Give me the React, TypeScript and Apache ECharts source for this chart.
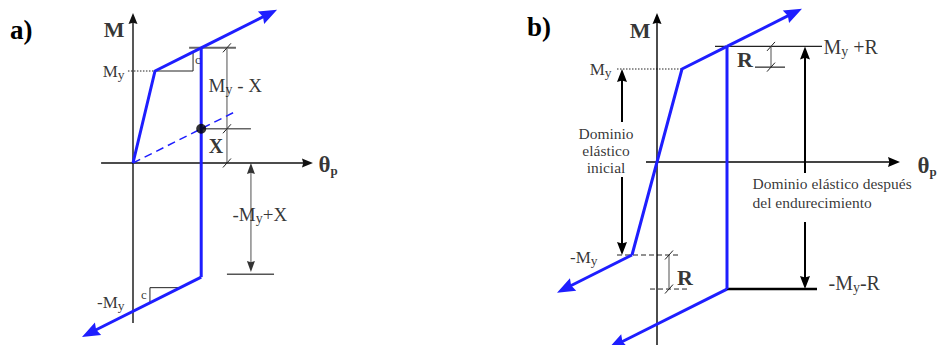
import React, { useEffect, useRef } from "react";
import * as echarts from "echarts";

// Units: rotation in multiples of the yield rotation, moment in multiples of My.

// ---- Panel a) : hardening branch and shifted elastic origin (X) ----
const loadPathA = [[0, 0], [1, 1], [3.1, 1.252]];
const loadArrowA = [[3.1, 1.252], [6.55, 1.666]];
const unloadPathA = [[3.1, 1.252], [3.1, -1.24]];
const reloadArrowA = [[3.1, -1.24], [-2.32, -1.89]];
const shiftLineA = [[0, 0], [4.68, 0.562]];
const shiftPointA = [[3.1, 0.372]];
const yieldGuideA = [[-0.23, 1], [1, 1]];
const slopeTopA = [[1, 1], [2.73, 1], [2.73, 1.208]];
const slopeBotA = [[2.14, -1.355], [0.77, -1.355], [0.77, -1.52]];
const dimTopA = [[2.55, 1.252], [4.68, 1.252]];
const dimVertA = [[4.27, 1.252], [4.27, 0]];
const dimXA = [[3.1, 0.372], [5.36, 0.372]];
const dimBaseA = [[4.27, -1.21], [6.41, -1.21]];
const dimTicksA = [[4.27, 1.252], [4.27, 0.372], [4.27, 0]];
const dimArrowsA = [[[5.36, -0.6], [5.36, 0]], [[5.36, -0.6], [5.36, -1.185]]];
const axisXA = [[-1.45, 0], [8.18, 0]];
const axisYA = [[0, -1.74], [0, 1.63]];

// ---- Panel b) : elastic domain before and after hardening (R) ----
const loadPathB = [[-1, -1], [1, 1], [2.8, 1.243]];
const loadArrowB = [[2.8, 1.243], [5.8, 1.648]];
const negArrowB = [[-1, -1], [-4, -1.405]];
const unloadPathB = [[2.8, 1.243], [2.8, -1.366]];
const reloadArrowB = [[2.8, -1.366], [-1.95, -2.007]];
const yieldGuideB = [[-1.6, 1], [1, 1]];
const negGuideB = [[-1.6, -1], [0.88, -1]];
const negHardGuideB = [[-0.28, -1.366], [1.2, -1.366]];
const topLevelB = [[2.32, 1.243], [6.6, 1.243]];
const botLevelB = [[2.8, -1.366], [6.4, -1.366]];
const rTopVertB = [[4.56, 1.243], [4.56, 1.02]];
const rTopBaseB = [[3.92, 1.02], [5.12, 1.02]];
const rBotVertB = [[0.48, -1], [0.48, -1.366]];
const rTicksB = [[4.56, 1.243], [4.56, 1.02], [0.48, -1], [0.48, -1.366]];
const initDomainArrowsB = [[[-1.4, 0.43], [-1.4, 1.0]], [[-1.4, -0.16], [-1.4, -1.0]]];
const hardDomainArrowsB = [[[5.92, -0.118], [5.92, 1.243]], [[5.92, -0.645], [5.92, -1.366]]];
const axisXB = [[-0.44, 0], [9.72, 0]];
const axisYB = [[0, -2.0], [0, 1.602]];

const SERIF = '"Liberation Serif", "Times New Roman", Times, serif';
const BLUE = "#1e1eff";

// pixel frame of each panel: origin, pixels per unit, grid box
const frames = [
  { ox: 133, oy: 163, kx: 22, ky: 92, left: 0, width: 469 },
  { ox: 657, oy: 162, kx: 25, ky: 93, left: 469, width: 469 },
];
const PAGE_H = 345;

type Pt = number[];

function poly(g: number, data: Pt[], color: string, width: number, type: any = "solid", z = 3) {
  return {
    type: "line",
    xAxisIndex: g,
    yAxisIndex: g,
    data,
    symbol: "none",
    showSymbol: false,
    silent: true,
    clip: false,
    z,
    lineStyle: { color, width, type, cap: "butt", join: "round" },
  };
}

function arrows(
  g: number,
  segs: Pt[][],
  color: string,
  width: number,
  headLen: number,
  headW: number,
  headColor?: string,
  z = 4
) {
  return {
    type: "custom",
    xAxisIndex: g,
    yAxisIndex: g,
    silent: true,
    z,
    clip: false,
    dimensions: ["x0", "y0", "x1", "y1"],
    encode: { x: [0, 2], y: [1, 3] },
    data: segs.map((s) => [s[0][0], s[0][1], s[1][0], s[1][1]]),
    renderItem: (_p: any, api: any) => {
      const a = api.coord([api.value(0), api.value(1)]);
      const b = api.coord([api.value(2), api.value(3)]);
      const dx = b[0] - a[0];
      const dy = b[1] - a[1];
      const len = Math.hypot(dx, dy) || 1;
      const ux = dx / len;
      const uy = dy / len;
      const nx = -uy;
      const ny = ux;
      const bx = b[0] - ux * headLen;
      const by = b[1] - uy * headLen;
      const notch = headLen * 0.12;
      const hw = headW / 2;
      return {
        type: "group",
        children: [
          {
            type: "line",
            shape: { x1: a[0], y1: a[1], x2: bx + ux * notch * 2, y2: by + uy * notch * 2 },
            style: { stroke: color, lineWidth: width },
          },
          {
            type: "polygon",
            shape: {
              points: [
                [b[0], b[1]],
                [bx + nx * hw, by + ny * hw],
                [bx + ux * notch, by + uy * notch],
                [bx - nx * hw, by - ny * hw],
              ],
            },
            style: { fill: headColor || color },
          },
        ],
      };
    },
  };
}

function ticks(g: number, pts: Pt[], color = "#222") {
  return {
    type: "custom",
    xAxisIndex: g,
    yAxisIndex: g,
    silent: true,
    z: 5,
    dimensions: ["x", "y"],
    encode: { x: 0, y: 1 },
    data: pts,
    renderItem: (_p: any, api: any) => {
      const c = api.coord([api.value(0), api.value(1)]);
      return {
        type: "line",
        shape: { x1: c[0] - 4, y1: c[1] + 4.5, x2: c[0] + 4, y2: c[1] - 4.5 },
        style: { stroke: color, lineWidth: 1 },
      };
    },
  };
}

function richFor(main: number, sub: number, weight: any = "normal") {
  return {
    m: { fontSize: main, fontFamily: SERIF, color: "#000", fontWeight: weight, lineHeight: main + 3, verticalAlign: "middle" },
    s: { fontSize: sub, fontFamily: SERIF, color: "#000", fontWeight: weight, lineHeight: sub, verticalAlign: "bottom" },
  };
}

function tag(x: number, y: number, text: string, position: string, extra: any = {}) {
  return {
    value: [x, y],
    label: {
      show: true,
      position,
      distance: 0,
      formatter: text,
      fontFamily: SERIF,
      color: "#000",
      ...extra,
    },
  };
}

function labels(g: number, items: any[]) {
  return {
    type: "scatter",
    xAxisIndex: g,
    yAxisIndex: g,
    symbolSize: 1,
    silent: true,
    z: 10,
    itemStyle: { color: "rgba(0,0,0,0)" },
    data: items,
  };
}

function buildOption() {
  const grids = frames.map((f) => ({ left: f.left, top: 0, width: f.width, height: PAGE_H, containLabel: false }));
  const xAxes = frames.map((f, i) => ({
    type: "value",
    gridIndex: i,
    min: (f.left - f.ox) / f.kx,
    max: (f.left + f.width - f.ox) / f.kx,
    show: false,
  }));
  const yAxes = frames.map((f, i) => ({
    type: "value",
    gridIndex: i,
    min: -(PAGE_H - f.oy) / f.ky,
    max: f.oy / f.ky,
    show: false,
  }));

  const r19 = richFor(19, 14);
  const r17 = richFor(17, 13.5);
  const r20 = richFor(20, 14);
  const theta = {
    t: { fontSize: 23, fontFamily: SERIF, fontWeight: "bold", color: "#000", lineHeight: 24, verticalAlign: "middle" },
    p: { fontSize: 13, fontFamily: SERIF, fontWeight: "bold", color: "#000", lineHeight: 9, verticalAlign: "bottom" },
  };
  const bold22 = { fontSize: 22, fontWeight: "bold" };

  const series: any[] = [
    // ---------- panel a ----------
    arrows(0, [axisXA, axisYA], "#111", 1.4, 11, 9),
    poly(0, yieldGuideA, "#222", 1, [1.5, 1.5]),
    poly(0, slopeTopA, "#222", 1),
    poly(0, slopeBotA, "#222", 1),
    poly(0, dimTopA, "#666", 2),
    poly(0, dimVertA, "#8a8a8a", 1.5),
    poly(0, dimXA, "#666", 1.5),
    poly(0, dimBaseA, "#555", 1.5),
    ticks(0, dimTicksA),
    arrows(0, dimArrowsA, "#8a8a8a", 1.5, 11, 8, "#333"),
    poly(0, shiftLineA, BLUE, 1.5, [8, 5], 6),
    poly(0, loadPathA, BLUE, 3, "solid", 7),
    poly(0, unloadPathA, BLUE, 3, "solid", 7),
    arrows(0, [loadArrowA, reloadArrowA], BLUE, 3, 18, 14, BLUE, 7),
    {
      type: "scatter",
      xAxisIndex: 0,
      yAxisIndex: 0,
      data: shiftPointA,
      symbolSize: 10,
      itemStyle: { color: "#000" },
      silent: true,
      z: 8,
    },
    labels(0, [
      tag(-0.86, 1.446, "M", "inside", bold22),
      tag(-0.36, 1.0, "{m|M}{s|y}", "left", { rich: r17 }),
      tag(2.95, 1.12, "c", "inside", { fontSize: 13 }),
      tag(3.41, 0.837, "{m|M}{s|y}{m| - X}", "right", { rich: r19 }),
      tag(3.77, 0.185, "X", "inside", { fontSize: 20, fontWeight: "bold" }),
      tag(4.5, -0.565, "{m|-M}{s|y}{m|+X}", "right", { rich: r19 }),
      tag(-0.36, -1.52, "{m|-M}{s|y}", "left", { rich: r17 }),
      tag(0.5, -1.424, "c", "inside", { fontSize: 13 }),
      tag(8.41, -0.02, "{t|θ}{p|p}", "right", { rich: theta }),
    ]),

    // ---------- panel b ----------
    arrows(1, [axisXB], "#444", 2, 12, 10, "#000"),
    arrows(1, [axisYB], "#000", 1.4, 11, 9),
    poly(1, yieldGuideB, "#222", 1, [1.5, 1.5]),
    poly(1, negGuideB, "#222", 1, [5, 3]),
    poly(1, negHardGuideB, "#222", 1, [5, 3]),
    poly(1, topLevelB, "#222", 1.3),
    poly(1, botLevelB, "#000", 2.5),
    poly(1, rTopVertB, "#8a8a8a", 1.5),
    poly(1, rTopBaseB, "#222", 1.2),
    poly(1, rBotVertB, "#8a8a8a", 1.5),
    ticks(1, rTicksB),
    arrows(1, initDomainArrowsB, "#000", 2, 13, 10),
    arrows(1, hardDomainArrowsB, "#000", 2, 13, 10),
    poly(1, loadPathB, BLUE, 3, "solid", 7),
    poly(1, unloadPathB, BLUE, 3, "solid", 7),
    arrows(1, [loadArrowB, negArrowB, reloadArrowB], BLUE, 3, 18, 14, BLUE, 7),
    labels(1, [
      tag(-0.68, 1.409, "M", "inside", bold22),
      tag(-1.8, 1.0, "{m|M}{s|y}", "left", { rich: r17 }),
      tag(-2.04, 0.129, "Dominio\nelástico\ninicial", "inside", {
        fontSize: 15.5,
        lineHeight: 17,
        align: "center",
      }),
      tag(-2.36, -1.032, "{m|-M}{s|y}", "left", { rich: r17 }),
      tag(1.12, -1.237, "R", "inside", bold22),
      tag(3.52, 1.097, "R", "inside", bold22),
      tag(6.64, 1.237, "{m|M}{s|y}{m| +R}", "right", { rich: r20 }),
      tag(3.8, -0.328, "Dominio elástico después\ndel endurecimiento", "right", {
        fontSize: 15.5,
        lineHeight: 19,
        align: "left",
      }),
      tag(6.84, -1.3, "{m|-M}{s|y}{m|-R}", "right", { rich: r20 }),
      tag(10.4, -0.043, "{t|θ}{p|p}", "right", { rich: theta }),
    ]),
  ];

  return {
    animation: false,
    backgroundColor: "#fff",
    grid: grids,
    xAxis: xAxes,
    yAxis: yAxes,
    graphic: [
      {
        type: "text",
        x: 10,
        y: 30,
        style: { text: "a)", fontSize: 27, fontWeight: "bold", fontFamily: SERIF, fill: "#000", verticalAlign: "middle" },
      },
      {
        type: "text",
        x: 527,
        y: 27,
        style: { text: "b)", fontSize: 27, fontWeight: "bold", fontFamily: SERIF, fill: "#000", verticalAlign: "middle" },
      },
    ],
    series,
  };
}

export default function App() {
  const ref = useRef<HTMLDivElement>(null);
  useEffect(() => {
    if (!ref.current) return;
    const chart = echarts.init(ref.current, null, { renderer: "svg" });
    chart.setOption(buildOption() as any);
    return () => chart.dispose();
  }, []);
  return (
    <div
      ref={ref}
      style={{ position: "fixed", left: 0, top: 0, width: 938, height: 345, background: "#fff" }}
    />
  );
}
